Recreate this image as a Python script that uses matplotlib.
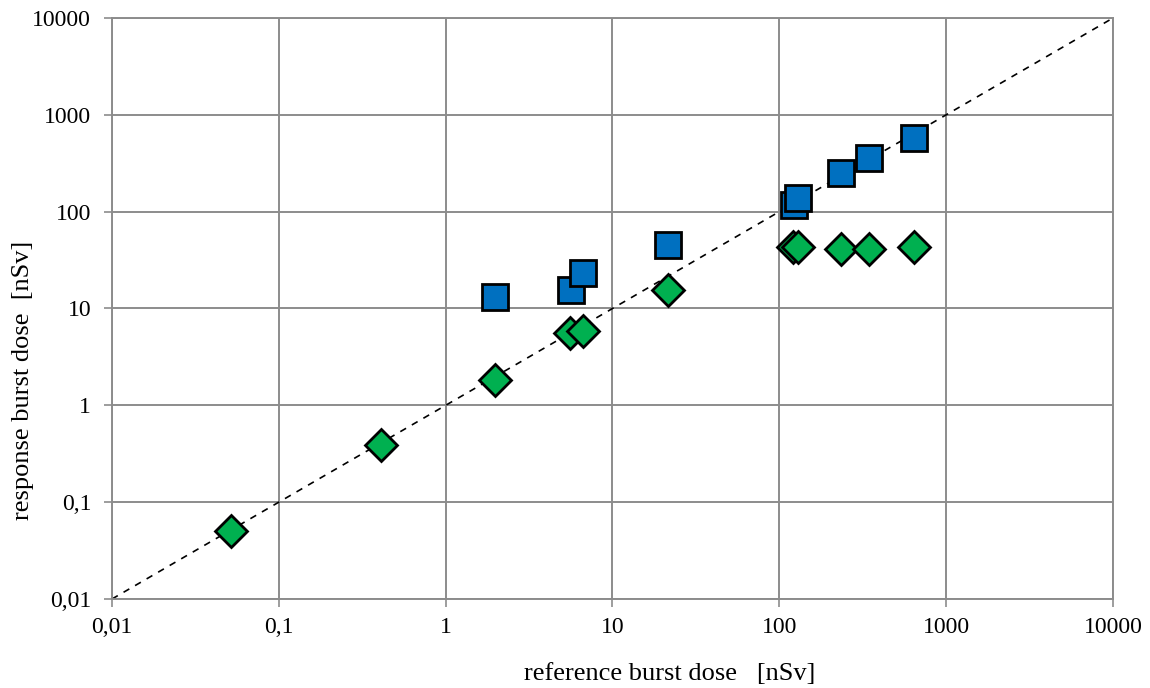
import matplotlib.pyplot as plt
from matplotlib.ticker import FixedLocator, FixedFormatter, NullLocator

# data (nSv)
ref_blue = [1.98, 5.62, 6.66, 21.6, 122, 129, 235, 347, 640]
resp_blue = [13.1, 15.7, 23.3, 45.7, 117, 139, 252, 355, 575]

ref_green = [0.052, 0.41, 1.98, 5.6, 6.7, 21.6, 121, 130, 235, 347, 640]
resp_green = [0.050, 0.39, 1.84, 5.6, 5.8, 15.7, 43, 43, 41, 41, 43]

tick_vals = [0.01, 0.1, 1, 10, 100, 1000, 10000]
tick_labels = ["0,01", "0,1", "1", "10", "100", "1000", "10000"]

plt.rcParams["font.family"] = ["Liberation Serif", "DejaVu Serif"]

fig = plt.figure(figsize=(11.5, 6.88), dpi=100)
ax = fig.add_axes([0.0974, 0.1294, 0.8704, 0.8444])

ax.set_xscale("log")
ax.set_yscale("log")
ax.set_xlim(tick_vals[0], tick_vals[-1])
ax.set_ylim(tick_vals[0], tick_vals[-1])

# grid
ax.grid(True, color="#8c8c8c", linewidth=1.4)
ax.set_axisbelow(True)
for s in ax.spines.values():
    s.set_color("#8c8c8c")
    s.set_linewidth(1.4)

# 1:1 line
ax.plot([tick_vals[0], tick_vals[-1]], [tick_vals[0], tick_vals[-1]],
        color="black", linestyle=(0, (4, 4)), linewidth=1.2, zorder=2)

ax.plot(ref_green, resp_green, linestyle="none", marker="D", markersize=16.5,
        markerfacecolor="#00B050", markeredgecolor="black", markeredgewidth=2,
        zorder=3)
ax.plot(ref_blue, resp_blue, linestyle="none", marker="s", markersize=18.5,
        markerfacecolor="#0070C0", markeredgecolor="black", markeredgewidth=2,
        zorder=4)

for axis in (ax.xaxis, ax.yaxis):
    axis.set_major_locator(FixedLocator(tick_vals))
    axis.set_major_formatter(FixedFormatter(tick_labels))
    axis.set_minor_locator(NullLocator())

ax.tick_params(axis="both", which="major", direction="out", length=6,
               width=1.2, color="#8c8c8c", labelsize=17)
ax.tick_params(axis="x", pad=7)
ax.tick_params(axis="y", pad=9)

ax.set_xlabel("reference burst dose   [nSv]", fontsize=19)
ax.xaxis.set_label_coords(0.557, -0.110)
ax.set_ylabel("response burst dose  [nSv]", fontsize=19)
ax.yaxis.set_label_coords(-0.078, 0.377)

fig.savefig("out.png", dpi=100)
